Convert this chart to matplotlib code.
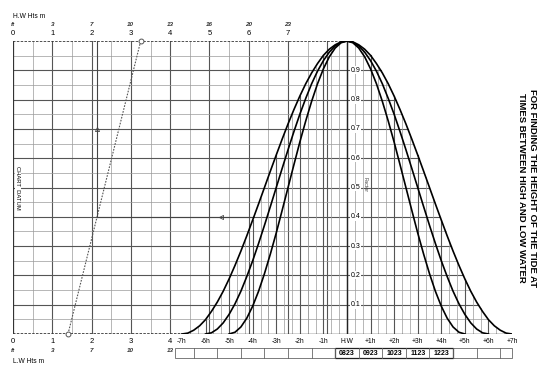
import numpy as np
import matplotlib.pyplot as plt
from matplotlib.patches import Rectangle

plt.rcParams['font.family'] = ['Liberation Sans', 'DejaVu Sans']

# ---- data ----
# tide factor against time from LW up to HW, quarter-hour steps
times_7h = [-7.0, -6.75, -6.5, -6.25, -6.0, -5.75, -5.5, -5.25, -5.0, -4.75, -4.5, -4.25,
            -4.0, -3.75, -3.5, -3.25, -3.0, -2.75, -2.5, -2.25, -2.0, -1.75, -1.5, -1.25,
            -1.0, -0.75, -0.5, -0.25, 0.0]
factor_7h = [0.0, 0.003, 0.013, 0.028, 0.049, 0.077, 0.109, 0.146, 0.188, 0.234, 0.283, 0.335,
             0.389, 0.444, 0.5, 0.556, 0.611, 0.665, 0.717, 0.766, 0.812, 0.854, 0.891, 0.923,
             0.951, 0.972, 0.987, 0.997, 1.0]
times_6h = [-6.0, -5.75, -5.5, -5.25, -5.0, -4.75, -4.5, -4.25, -4.0, -3.75, -3.5, -3.25,
            -3.0, -2.75, -2.5, -2.25, -2.0, -1.75, -1.5, -1.25, -1.0, -0.75, -0.5, -0.25, 0.0]
factor_6h = [0.0, 0.004, 0.017, 0.038, 0.067, 0.103, 0.146, 0.196, 0.25, 0.309, 0.371, 0.435,
             0.5, 0.565, 0.629, 0.691, 0.75, 0.804, 0.854, 0.897, 0.933, 0.962, 0.983, 0.996, 1.0]
times_5h = [-5.0, -4.75, -4.5, -4.25, -4.0, -3.75, -3.5, -3.25, -3.0, -2.75, -2.5, -2.25,
            -2.0, -1.75, -1.5, -1.25, -1.0, -0.75, -0.5, -0.25, 0.0]
factor_5h = [0.0, 0.006, 0.024, 0.054, 0.095, 0.146, 0.206, 0.273, 0.345, 0.422, 0.5, 0.578,
             0.655, 0.727, 0.794, 0.854, 0.905, 0.946, 0.976, 0.994, 1.0]

hw_heights = [0, 1, 2, 3, 4, 5, 6, 7]
hw_feet = ['ft', '3', '7', '10', '13', '16', '20', '23']
lw_heights = [0, 1, 2, 3, 4]
lw_feet = ['ft', '3', '7', '10', '13']
hour_ticks = [-7, -6, -5, -4, -3, -2, -1, 0, 1, 2, 3, 4, 5, 6, 7]
hour_labels = ['-7h', '-6h', '-5h', '-4h', '-3h', '-2h', '-1h', 'H.W',
               '+1h', '+2h', '+3h', '+4h', '+5h', '+6h', '+7h']
factor_ticks = [0.1, 0.2, 0.3, 0.4, 0.5, 0.6, 0.7, 0.8, 0.9]
clock_times = ['0823', '0923', '1023', '1123', '1223']

# worked example: LW 1.4 m, HW 3.25 m, factor 0.4
ex_lw, ex_hw, ex_factor = 1.4, 3.25, 0.4

# the time scale shares the axes with the height scale
HW_X = 8.5      # H.W line position on the metre scale
M_PER_H = 0.6   # one hour in metres of paper


def hx(t):
    return HW_X + M_PER_H * np.asarray(t, dtype=float)


fig = plt.figure(figsize=(5.51, 3.76), dpi=100)
ax = fig.add_axes([13 / 551, 42 / 376, (512 - 13) / 551, 293 / 376])
ax.set_xlim(0, hx(7))
ax.set_ylim(0, 1)
ax.axis('off')

# outer curve = envelope for the time grid
env_t = np.concatenate([times_7h, -np.array(times_7h[::-1])])
env_f = np.concatenate([factor_7h, factor_7h[::-1]])

MAJ, MIN = '#555555', '#9a9a9a'

# height grid (left part)
for h in np.arange(0.5, HW_X, 0.5):
    major = abs(h - round(h)) < 1e-6
    ax.plot([h, h], [0, 1], color=MAJ if major else MIN, lw=0.8 if major else 0.5, zorder=1)
for f in np.arange(0.05, 0.99, 0.05):
    major = round(f * 20) % 2 == 0
    c, w = (MAJ, 0.8) if major else (MIN, 0.5)
    t_end = -np.interp(f, factor_7h, times_7h)
    ax.plot([0, hx(t_end)], [f, f], color=c, lw=w, zorder=1)

# time grid every 20 minutes, only under the curves
for k in range(-20, 21):
    t = k / 3
    top = np.interp(t, env_t, env_f)
    hourly = k % 3 == 0
    ax.plot([hx(t)] * 2, [0, top], color=MAJ if hourly else MIN,
            lw=0.8 if hourly else 0.5, zorder=1)

# tidal curves
for t, f in [(times_7h, factor_7h), (times_6h, factor_6h), (times_5h, factor_5h)]:
    ax.plot(hx(t), f, color='black', lw=1.2, zorder=4)
    ax.plot(hx(-np.array(t[::-1])), f[::-1], color='black', lw=1.2, zorder=4)

# frame
ax.plot([0, 0], [0, 1], color='#333333', lw=0.9, zorder=3)
ax.plot([0, HW_X], [1, 1], color='#333333', lw=1.2, ls=(0, (1.5, 0.8)), zorder=3)
ax.plot([0, hx(-7)], [0, 0], color='#333333', lw=1.2, ls=(0, (1.5, 0.8)), zorder=3)
ax.plot([hx(-7), hx(7)], [0, 0], color='#222222', lw=1.0, zorder=3)
ax.plot([HW_X, HW_X], [0, 1], color='#222222', lw=1.0, zorder=3)

# height scales
for h, ft in zip(hw_heights, hw_feet):
    ax.text(h, 1.024, str(h), ha='center', va='center', fontsize=5.5, clip_on=False)
    ax.text(h, 1.056, ft, ha='center', va='center', fontsize=4.5, fontstyle='italic',
            fontweight='bold', color='#333333', clip_on=False)
ax.text(0, 1.085, 'H.W Hts m', ha='left', va='center', fontsize=4.8, clip_on=False)
for h, ft in zip(lw_heights, lw_feet):
    ax.text(h, -0.024, str(h), ha='center', va='center', fontsize=5.5, clip_on=False)
    ax.text(h, -0.058, ft, ha='center', va='center', fontsize=4.5, fontstyle='italic',
            fontweight='bold', color='#333333', clip_on=False)
ax.text(0, -0.095, 'L.W Hts m', ha='left', va='center', fontsize=4.8, clip_on=False)

# time scale
for t, lab in zip(hour_ticks, hour_labels):
    ax.text(hx(t), -0.024, lab, ha='center', va='center', fontsize=4.8, clip_on=False)

# row of boxes for the clock times
y0, y1 = -0.082, -0.048
ax.add_patch(Rectangle((hx(-7.3), y0), hx(7) - hx(-7.3), y1 - y0, fill=False,
                       ec='#666666', lw=0.6, clip_on=False))
for k in range(-7, 7):
    ax.plot([hx(k + 0.5)] * 2, [y0, y1], color='#666666', lw=0.6, clip_on=False)
ax.add_patch(Rectangle((hx(-0.5), y0), hx(4.5) - hx(-0.5), y1 - y0, fill=False,
                       ec='#222222', lw=0.9, clip_on=False))
for i, ct in enumerate(clock_times):
    ax.text(hx(i), (y0 + y1) / 2, ct, ha='center', va='center', fontsize=5,
            fontweight='bold', clip_on=False)

# factor scale on the H.W line
for f in factor_ticks:
    ax.text(hx(0) + 0.22, f, '%.1f' % f, ha='center', va='center', fontsize=5,
            zorder=5, bbox=dict(fc='white', ec='none', pad=0.3))
ax.text(hx(0) + 0.45, 0.51, 'Factor', rotation=-90, ha='center', va='center',
        fontsize=3.8, color='#444444', zorder=5)
ax.text(0.12, 0.50, 'CHART  DATUM', rotation=-90, ha='center', va='center',
        fontsize=4.2, zorder=5, bbox=dict(fc='white', ec='none', pad=0.2))

# worked example line
ex_x = ex_lw + ex_factor * (ex_hw - ex_lw)
ax.plot([ex_lw, ex_hw], [0, 1], color='#555555', lw=0.8, ls=(0, (1.5, 1.2)), zorder=3)
ax.plot([ex_lw, ex_hw], [0, 1], 'o', ms=3.5, mfc='white', mec='#555555', mew=0.7,
        zorder=3, clip_on=False)
ex_end = hx(np.interp(ex_factor, factor_7h, times_7h))
ax.plot([ex_x, ex_end], [ex_factor, ex_factor], color='#444444', lw=0.8, zorder=3)
ax.plot([ex_x, ex_x], [ex_factor, 1], color='#444444', lw=0.8, zorder=3)
ax.plot(5.3, ex_factor, marker='<', ms=3, mfc='none', mec='#444444', mew=0.6, zorder=3)
ax.plot(ex_x, 0.70, marker='^', ms=3, mfc='none', mec='#444444', mew=0.6, zorder=3)

fig.text(527 / 551, 1 - 188 / 376,
         'FOR FINDING THE HEIGHT OF THE TIDE AT\nTIMES BETWEEN HIGH AND LOW WATER',
         rotation=-90, ha='center', va='center', fontsize=6.8, fontweight='bold',
         linespacing=1.15, multialignment='center')

fig.savefig('out.png', dpi=100)
